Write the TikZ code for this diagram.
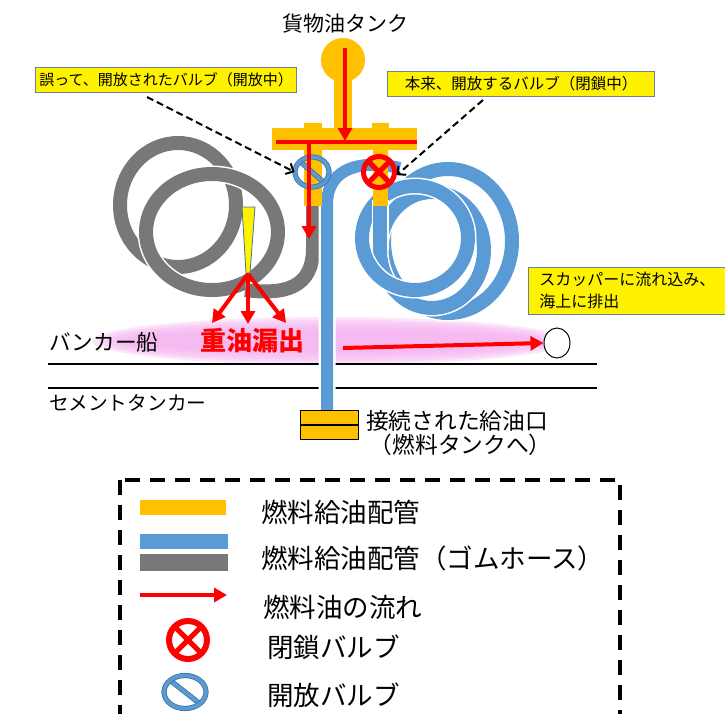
\documentclass[tikz,border=0pt]{standalone}
\usepackage{fontspec}
\setmainfont{Noto Sans CJK JP}
\usetikzlibrary{shapes.geometric,positioning,arrows.meta}

\definecolor{pipeOrange}{HTML}{FFC000}
\definecolor{hoseBlue}{HTML}{5B9BD5}
\definecolor{hoseGray}{HTML}{787878}
\definecolor{valveEdge}{HTML}{41719C}
\definecolor{noteEdge}{HTML}{6F7F99}
\definecolor{spill}{HTML}{F4B4F0}

\newcommand{\fsz}[1]{\fontsize{#1}{#1}\selectfont}

\begin{document}
\begin{tikzpicture}[
    % Define styles
    x = 1pt, y = -1pt,
    hoseb/.style={draw=hoseBlue, line width=14pt, preaction={draw=white, line width=17pt}},
    hoseg/.style={draw=hoseGray, line width=14pt, preaction={draw=white, line width=17pt}},
    pipe/.style={fill=pipeOrange},
    tank/.style={circle, fill=pipeOrange, minimum size=44pt, inner sep=0pt},
    coupler/.style={rectangle, fill=pipeOrange, draw=black, line width=1pt, minimum width=58pt, minimum height=14pt, inner sep=0pt},
    flow/.style={draw=red, line width=4pt, -{Triangle[length=13pt, width=14pt]}},
    callout/.style={draw=black, line width=2pt, dash pattern=on 7pt off 4pt, -{Straight Barb[length=6pt, width=12pt]}},
    note/.style={rectangle, fill=yellow, draw=noteEdge, line width=0.8pt, inner xsep=4pt, inner ysep=5pt, font=\fsz{15}, align=left},
    txt/.style={inner sep=0pt, font=\fsz{21}},
    legtxt/.style={inner sep=0pt, anchor=west, font=\fsz{26.5}},
    vopen/.style={ellipse, inner sep=0pt, draw=valveEdge, line width=0.8pt, double=hoseBlue, double distance=3.6pt,
        path picture={\draw[valveEdge, line width=0.8pt, double=hoseBlue, double distance=3.6pt]
            (path picture bounding box.north west) -- (path picture bounding box.south east);}},
    vshut/.style={circle, inner sep=0pt, draw=red, line width=5pt,
        path picture={\draw[red, line width=5pt]
            (path picture bounding box.north west) -- (path picture bounding box.south east)
            (path picture bounding box.north east) -- (path picture bounding box.south west);}},
]
\useasboundingbox (0,0) rectangle (725,713);

% Spilled oil on deck
\foreach \k in {0,...,5}
    \fill[spill, opacity=0.33] (330,341) ellipse [x radius={238-7*\k}, y radius={24-2.6*\k}];

% Decks of both ships
\draw[line width=1.5pt] (48,364) -- (597,364);
\draw[line width=1.5pt] (48,388) -- (597,388);

% Gray hose coil
\draw[hoseg] (178,205) ellipse [x radius=58, y radius=62];
\draw[hoseg] (212,232) ellipse [x radius=66, y radius=58];
\draw[hoseg] (313,200) -- (313,248) .. controls (313,288) and (285,295) .. (245,290);

% Blue hose coil
\draw[hoseb] (448,241) ellipse [x radius=64, y radius=72];
\draw[hoseb] (432,250) ellipse [x radius=52, y radius=58];
\draw[hoseb] (415,238) ellipse [x radius=53, y radius=52];
\draw[hoseb, line width=12pt] (327,412) -- (327,205) .. controls (327,165) and (365,160) .. (400,168);
\draw[hoseb] (380,200) -- (380,250);

% Cracked hose
\fill[yellow, draw=valveEdge, line width=0.8pt] (242,207) -- (255,207) -- (250,273) -- (246,273) -- cycle;

% Cargo oil tank and manifold
\node[tank] (tank) at (343,60) {};
\fill[pipe] (334,60) rectangle (352,130);
\fill[pipe] (272,128) rectangle (417,150);
\fill[pipe] (304,123) rectangle (322,130);
\fill[pipe] (372,123) rectangle (389,130);
\fill[pipe] (304,150) rectangle (322,206);
\fill[pipe] (373,150) rectangle (388,206);
\draw[red, line width=4pt] (276,142) -- (417,142);

% Fuel inlet on the tanker
\node[coupler, anchor=north west] (inletA) at (300,410) {};
\node[coupler, below=0pt of inletA] (inletB) {};

% Valves
\node[vopen, minimum width=34pt, minimum height=30pt] (vOpen) at (312,172) {};
\node[vshut, minimum size=31pt] (vShut) at (379,172) {};

% Flow of fuel oil
\coordinate (tankTop) at (345,48);
\coordinate (tankEnd) at (345,141);
\coordinate (dropTop) at (309,144);
\coordinate (dropEnd) at (309,239);
\coordinate (leak) at (248,274);
\coordinate (leakL) at (212,323);
\coordinate (leakM) at (248,324);
\coordinate (leakR) at (286,323);
\coordinate (spillFlow) at (343,348);
\draw[flow] (tankTop) -- (tankEnd);
\draw[flow] (dropTop) -- (dropEnd);
\draw[flow] (leak) -- (leakL);
\draw[flow] (leak) -- (leakM);
\draw[flow] (leak) -- (leakR);

\node[ellipse, draw=black, line width=1pt, fill=white, minimum width=26pt, minimum height=30pt, inner sep=0pt] (scupper) at (557,343) {};
\draw[flow] (spillFlow) -- (scupper.west);

% Texts
\node[txt] (title) at (345,24) {貨物油タンク};
\node[txt, anchor=west, font=\fsz{21.6}] (bunker) at (49,342) {バンカー船};
\node[txt, font=\fsz{26}\bfseries, text=red] (leakTxt) at (252,341) {重油漏出};
\node[txt, anchor=west, font=\fsz{19.7}] (cement) at (49,403) {セメントタンカー};
\node[txt, anchor=west, align=left, font=\fsz{22.7}] (inletTxt) at (366,433) {接続された給油口\\[2pt]\,（燃料タンクへ）};

% Call-out notes
\node[note] (lblOpen) at (166,80) {誤って、開放されたバルブ（開放中）};
\node[note, minimum width=267pt, align=center, font=\fsz{15.5}] (lblShut) at (521,84) {本来、開放するバルブ（閉鎖中）};
\node[note, anchor=north west, text width=175pt, inner xsep=11pt, font=\fontsize{16}{22}\selectfont] (lblScup) at (528,267) {スカッパーに流れ込み、\\海上に排出};

\coordinate (dOpen) at (147,97);
\coordinate (dShut) at (483,100);
\draw[callout] (dOpen) -- (vOpen.west);
\draw[callout] (dShut) -- (vShut.-10);

% Legend
\draw[line width=4pt, dash pattern=on 15pt off 10pt] (120,480) rectangle (620,740);
\fill[pipeOrange] (140,500) rectangle (226,515);
\fill[hoseBlue] (140,534) rectangle (228,549);
\fill[hoseGray] (140,554) rectangle (228,571);
\coordinate (legA) at (140,595);
\coordinate (legB) at (227,595);
\draw[flow] (legA) -- (legB);
\node[vshut, minimum size=38pt, line width=6pt] (legShut) at (188,640) {};
\node[vopen, minimum width=42pt, minimum height=33pt] (legOpen) at (185,692) {};

\node[legtxt] (legPipe) at (261,512) {燃料給油配管};
\node[legtxt] (legHose) at (261,558) {燃料給油配管（ゴムホース）};
\node[legtxt] (legFlow) at (263,607) {燃料油の流れ};
\node[legtxt] (legShutTxt) at (267,647) {閉鎖バルブ};
\node[legtxt] (legOpenTxt) at (267,695) {開放バルブ};

\end{tikzpicture}
\end{document}
